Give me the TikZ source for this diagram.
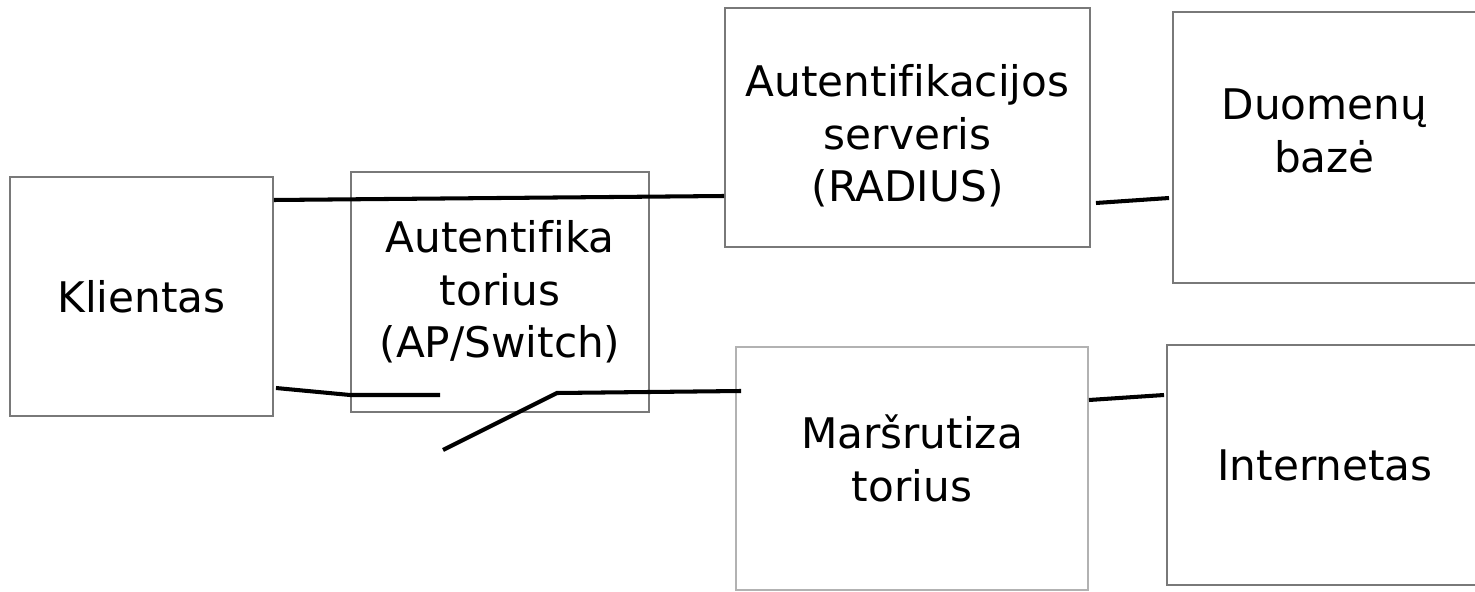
\documentclass[tikz,border=0pt]{standalone}
\usepackage{fontspec}
\setmainfont[Ligatures=NoCommon]{DejaVu Sans}
\usepackage{tikz}
\usetikzlibrary{positioning, calc}
\tikzset{
	netbox/.style={draw=gray!95!black, line width=1.1pt, align=center, font=\fontsize{24}{30}\selectfont}
}
\tikzset{
	wire/.style={draw=black, line width=2.3pt}
}
\newcommand{\nudge}[2]{\raisebox{#1}[\height][\depth]{\begin{tabular}{@{}c@{}}#2\end{tabular}}}

\begin{document}
\begin{tikzpicture}
      \clip (0,0) rectangle (29.5,-11.84);
      \fill[white] (0,0) rectangle (29.5,-11.84);
      \node[netbox, minimum width=5.26cm, minimum height=4.78cm] (klient) at (2.83,-5.93) {Klientas};
      \node[netbox, minimum width=5.96cm, minimum height=4.8cm] (auth) at (10.0,-5.84) {Autentifika\\torius\\(AP/Switch)};
      \node[netbox, minimum width=7.3cm, minimum height=4.78cm] (radius) at (18.15,-2.55) {\nudge{-0.22cm}{Autentifikacijos\\serveris\\(RADIUS)}};
      \node[netbox, minimum width=6.06cm, minimum height=5.42cm] (db) at (26.49,-2.95) {\nudge{0.24cm}{Duomenų\\bazė}};
      \node[netbox, draw=gray!60, minimum width=7.04cm, minimum height=4.86cm] (router) at (18.24,-9.37) {\nudge{0.08cm}{Maršrutiza\\torius}};
      \node[netbox, minimum width=6.32cm, minimum height=4.8cm] (inet) at (26.5,-9.3) {\nudge{-0.1cm}{Internetas}};
      % switch contacts
      \coordinate (swa) at (8.8,-7.9);
      \coordinate (swb) at (8.86,-9.0);
      \coordinate (swc) at (11.14,-7.86);
      \draw[wire] ([yshift=1.93cm]klient.east) -- ([yshift=-1.37cm]radius.west);
      \draw[wire] ([xshift=0.1cm, yshift=-1.51cm]radius.east) -- ([xshift=-0.06cm, yshift=-1.01cm]db.west);
      \draw[wire] ([xshift=0.04cm, yshift=-1.83cm]klient.east) -- ([yshift=-2.06cm]auth.west) -- (swa);
      \draw[wire] (swb) -- (swc) -- ([xshift=0.12cm, yshift=1.55cm]router.west);
      \draw[wire] ([yshift=1.37cm]router.east) -- ([xshift=-0.04cm, yshift=1.4cm]inet.west);
    \end{tikzpicture}
\end{document}
